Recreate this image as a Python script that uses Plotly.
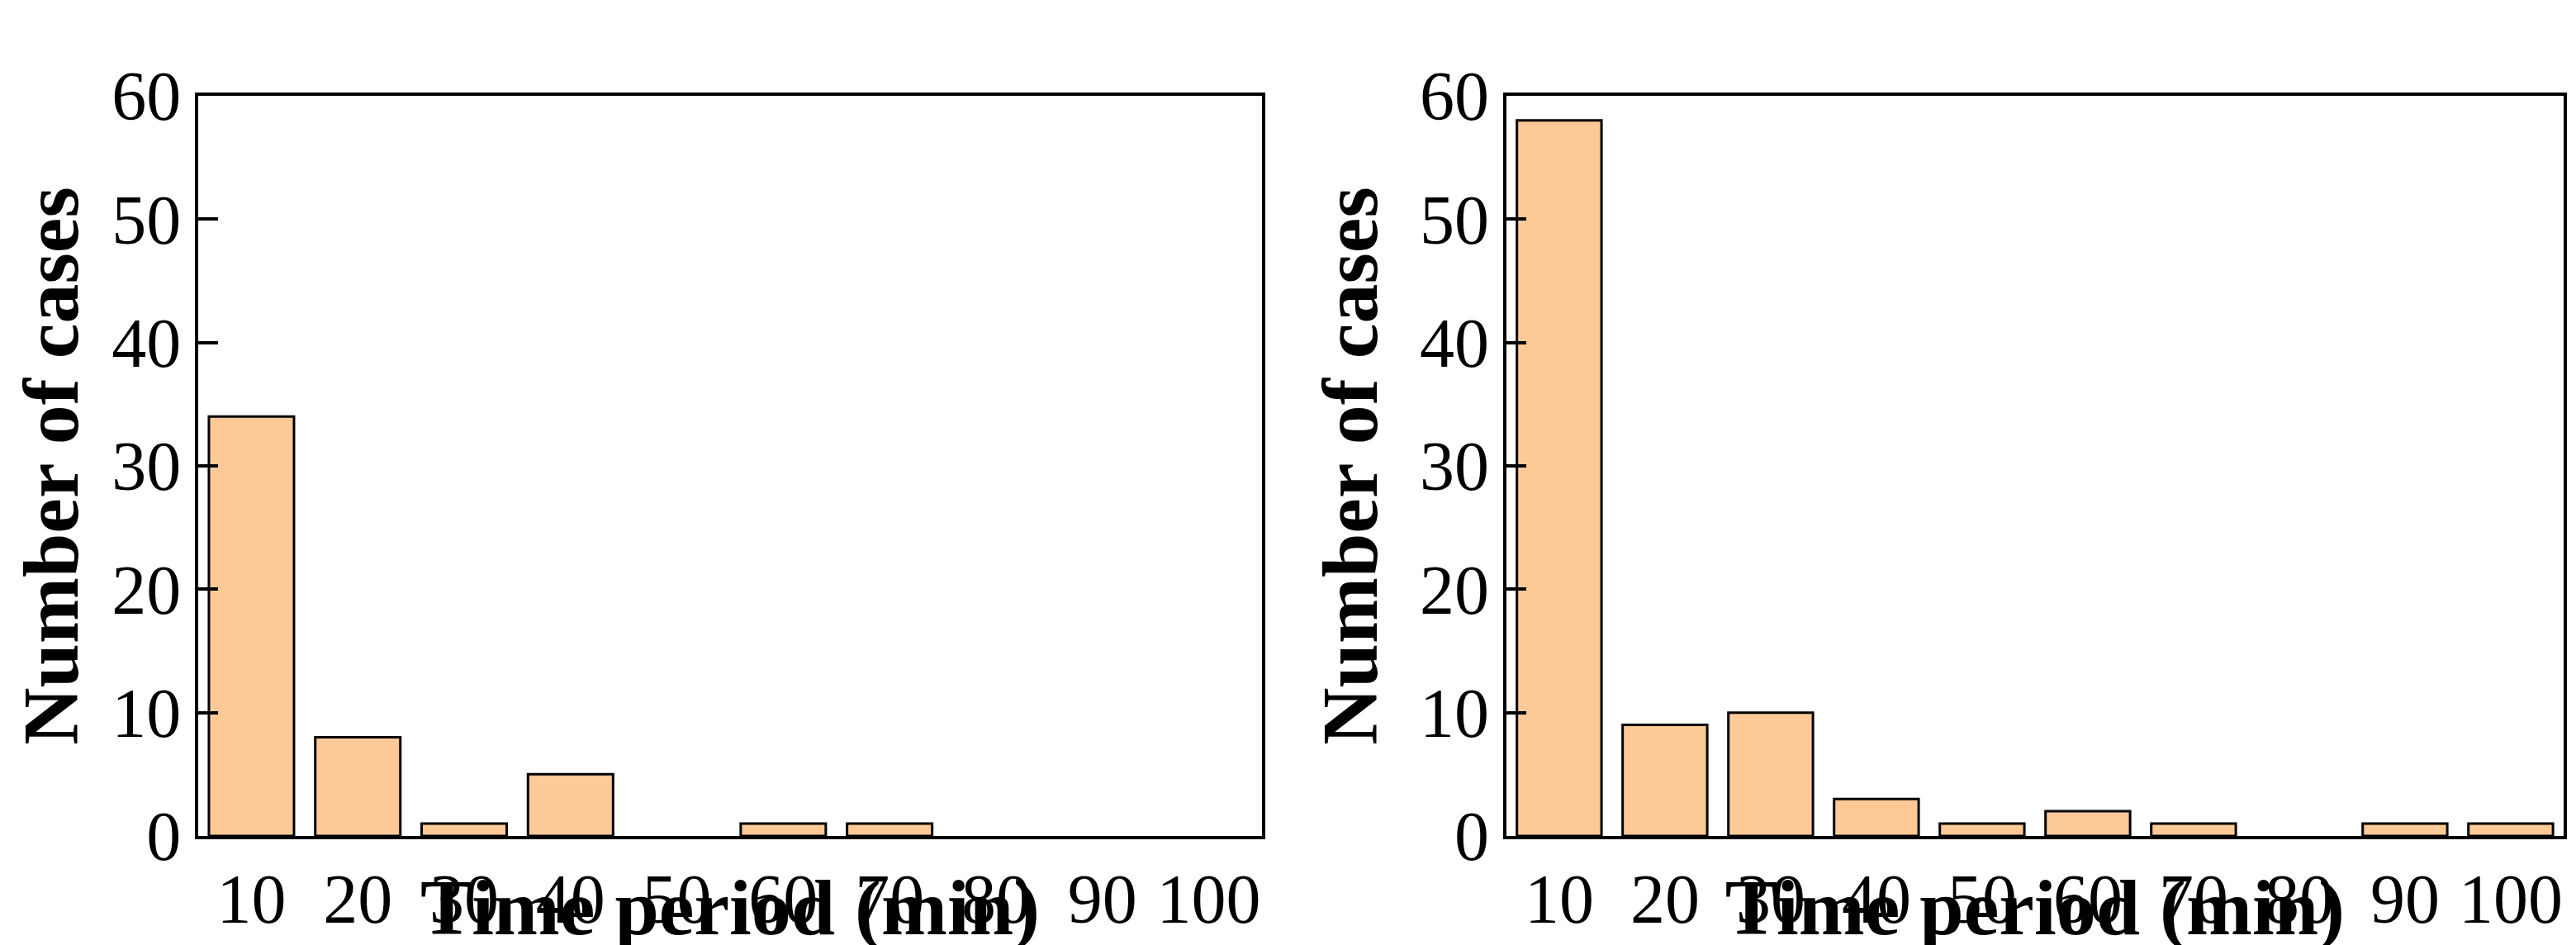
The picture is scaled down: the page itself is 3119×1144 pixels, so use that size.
import plotly.graph_objects as go

categories = ["10","20","30","40","50","60","70","80","90","100"]
left_values = [34, 8, 1, 5, 0, 1, 1, 0, 0, 0]
right_values = [58, 9, 10, 3, 1, 2, 1, 0, 1, 1]
y_ticks = [0, 10, 20, 30, 40, 50, 60]

fig = go.Figure()
for vals, xa, ya in [(left_values, "x", "y"), (right_values, "x2", "y2")]:
    shown = [v if v != 0 else None for v in vals]
    fig.add_trace(go.Bar(x=categories, y=shown, xaxis=xa, yaxis=ya, width=0.8,
                         marker=dict(color="#FDC996", line=dict(color="black", width=3)),
                         showlegend=False))

font = "Liberation Serif"
common_x = dict(type="category", range=[-0.5, 9.5], showline=True, linewidth=4, linecolor="black",
                mirror=True, ticks="", tickfont=dict(family=font, size=84, color="black"),
                title=dict(text="<b>Time period (min)</b>", font=dict(family=font, size=96, color="black"), standoff=40),
                showgrid=False, zeroline=False, automargin=False)
common_y = dict(range=[0, 60], tickvals=y_ticks, showline=True, linewidth=4, linecolor="black",
                mirror=True, ticks="inside", ticklen=24, tickwidth=4, tickcolor="black",
                tickfont=dict(family=font, size=84, color="black"),
                title=dict(text="<b>Number of cases</b>", font=dict(family=font, size=96, color="black"), standoff=20),
                showgrid=False, zeroline=False, automargin=False)

fig.update_layout(
    width=3119, height=1144, margin=dict(l=0, r=0, t=0, b=0),
    plot_bgcolor="white", paper_bgcolor="white", bargap=0.2,
    xaxis=dict(domain=[0.0744, 0.4873], anchor="y", **common_x),
    yaxis=dict(domain=[0.1224, 0.9056], anchor="x", **common_y),
    xaxis2=dict(domain=[0.5822, 0.9926], anchor="y2", **common_x),
    yaxis2=dict(domain=[0.1224, 0.9056], anchor="x2", **common_y),
)
fig.write_html("out.html")
